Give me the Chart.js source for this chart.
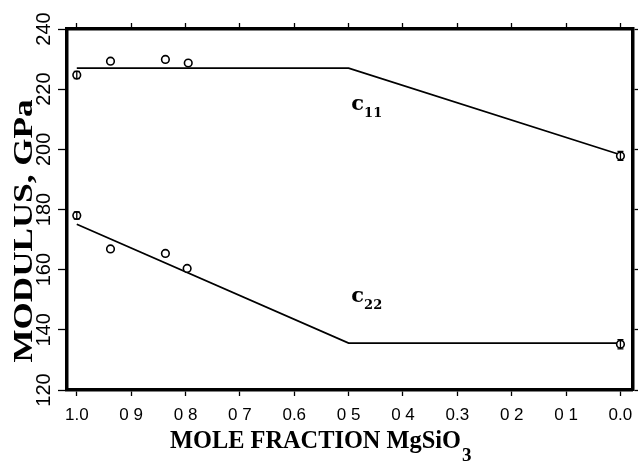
<!DOCTYPE html>
<html>
<head>
<meta charset="utf-8">
<script src="https://cdn.jsdelivr.net/npm/chart.js@4/dist/chart.umd.min.js"></script>
<style>
  html, body { margin: 0; padding: 0; background: #fff; }
  canvas { display: block; }
</style>
</head>
<body>
<canvas id="chart" width="638" height="461"></canvas>
<script>
// tick values and the labels as printed
var xTicks = [1.0, 0.9, 0.8, 0.7, 0.6, 0.5, 0.4, 0.3, 0.2, 0.1, 0.0];
var xTickLabels = ['1.0', '0 9', '0 8', '0 7', '0.6', '0 5', '0 4', '0.3', '0 2', '0 1', '0.0'];
var yTicks = [120, 140, 160, 180, 200, 220, 240];

// measured moduli (GPa) vs mole fraction MgSiO3
var c11X = [1.0, 0.938, 0.837, 0.795, 0.0];
var c11Y = [224.7, 229.3, 229.9, 228.7, 197.8];
var c11Err = [1.2, 0, 0, 0, 1.5];
var c22X = [1.0, 0.938, 0.837, 0.797, 0.0];
var c22Y = [178.0, 166.9, 165.4, 160.4, 135.2];
var c22Err = [1.2, 0, 0, 0, 1.5];

// model lines
var c11FitX = [1.0, 0.5, 0.0];
var c11FitY = [227.0, 227.0, 198.2];
var c22FitX = [1.0, 0.5, 0.0];
var c22FitY = [175.1, 135.6, 135.6];

function toPoints(xs, ys) {
  return xs.map(function(x, i) { return { x: x, y: ys[i] }; });
}

function serif(size) {
  return 'bold ' + size + 'px "Liberation Serif", "DejaVu Serif", serif';
}

var errorBars = {
  id: 'errorBars',
  afterDatasetsDraw: function(chart) {
    var ctx = chart.ctx;
    var xs = chart.scales.x, ys = chart.scales.y;
    var sets = [[c11X, c11Y, c11Err], [c22X, c22Y, c22Err]];
    ctx.save();
    ctx.strokeStyle = '#000';
    ctx.lineWidth = 1.3;
    sets.forEach(function(s) {
      s[0].forEach(function(x, i) {
        var e = s[2][i];
        if (!e) return;
        var px = xs.getPixelForValue(x);
        var top = ys.getPixelForValue(s[1][i] + e);
        var bot = ys.getPixelForValue(s[1][i] - e);
        ctx.beginPath();
        ctx.moveTo(px, top); ctx.lineTo(px, bot);
        ctx.moveTo(px - 3, top); ctx.lineTo(px + 3, top);
        ctx.moveTo(px - 3, bot); ctx.lineTo(px + 3, bot);
        ctx.stroke();
      });
    });
    ctx.restore();
  }
};

function fitText(ctx, text, width) {
  return width / ctx.measureText(text).width;
}

var labels = {
  id: 'labels',
  afterDraw: function(chart) {
    var ctx = chart.ctx;
    var xs = chart.scales.x, ys = chart.scales.y;
    ctx.save();
    ctx.fillStyle = '#000';
    ctx.textBaseline = 'alphabetic';
    ctx.textAlign = 'left';

    // curve labels
    [['11', 0.495, 213], ['22', 0.495, 149.3]].forEach(function(l) {
      var px = xs.getPixelForValue(l[1]);
      var py = ys.getPixelForValue(l[2]);
      ctx.font = 'bold 21px "DejaVu Serif", serif';
      ctx.fillText('c', px, py);
      var w = ctx.measureText('c').width;
      ctx.font = 'bold 13px "DejaVu Serif", serif';
      ctx.fillText(l[0], px + w, py + 7);
    });

    // x title
    ctx.font = serif(25);
    var main = 'MOLE FRACTION MgSiO';
    var sx = fitText(ctx, main, 291);
    ctx.save();
    ctx.translate(170, 448);
    ctx.scale(sx, 1);
    ctx.fillText(main, 0, 0);
    ctx.restore();
    ctx.font = serif(19);
    ctx.fillText('3', 462, 461);

    // y title
    ctx.font = serif(28);
    var yt = 'MODULUS, GPa';
    var sy = fitText(ctx, yt, 263);
    ctx.save();
    ctx.translate(32, 231);
    ctx.rotate(-Math.PI / 2);
    ctx.scale(sy, 1);
    ctx.textAlign = 'center';
    ctx.fillText(yt, 0, 0);
    ctx.restore();

    ctx.restore();
  }
};

function fixTicks(values) {
  return function(scale) {
    scale.ticks = values.map(function(v) { return { value: v }; });
  };
}

function noPad(s) {
  s.paddingLeft = 0; s.paddingRight = 0; s.paddingTop = 0; s.paddingBottom = 0;
}

var frame = { display: true, color: '#000', width: 3.5 };

new Chart(document.getElementById('chart'), {
  data: {
    datasets: [
      {
        type: 'line', data: toPoints(c11FitX, c11FitY), order: 2,
        borderColor: '#000', borderWidth: 1.8, pointRadius: 0, fill: false, tension: 0
      },
      {
        type: 'line', data: toPoints(c22FitX, c22FitY), order: 2,
        borderColor: '#000', borderWidth: 1.8, pointRadius: 0, fill: false, tension: 0
      },
      {
        type: 'scatter', data: toPoints(c11X, c11Y), order: 1,
        pointRadius: 3.8, pointBorderWidth: 1.6, borderColor: '#000', backgroundColor: '#fff'
      },
      {
        type: 'scatter', data: toPoints(c22X, c22Y), order: 1,
        pointRadius: 3.8, pointBorderWidth: 1.6, borderColor: '#000', backgroundColor: '#fff'
      }
    ]
  },
  options: {
    responsive: false,
    animation: false,
    layout: { padding: 0 },
    plugins: { legend: { display: false }, tooltip: { enabled: false } },
    scales: {
      x: {
        type: 'linear', position: 'bottom', reverse: true, min: -0.022, max: 1.018,
        afterBuildTicks: fixTicks(xTicks),
        afterFit: function(s) { s.height = 71; noPad(s); },
        border: frame,
        grid: { display: true, drawOnChartArea: false, drawTicks: true, tickLength: 6, tickWidth: 1.3, tickColor: '#000' },
        ticks: {
          color: '#000', padding: 9, maxRotation: 0, minRotation: 0, autoSkip: false,
          font: { family: '"Liberation Sans", Arial, sans-serif', size: 17 },
          callback: function(v) {
            for (var i = 0; i < xTicks.length; i++) {
              if (Math.abs(xTicks[i] - v) < 1e-6) return xTickLabels[i];
            }
            return '';
          }
        }
      },
      xTop: {
        type: 'linear', position: 'top', reverse: true, min: -0.022, max: 1.018,
        afterBuildTicks: fixTicks(xTicks),
        afterFit: function(s) { s.height = 29; noPad(s); },
        border: frame,
        grid: { display: true, drawOnChartArea: false, drawTicks: true, tickLength: 6, tickWidth: 1.3, tickColor: '#000' },
        ticks: { display: false }
      },
      y: {
        type: 'linear', position: 'left', min: 120, max: 240,
        afterBuildTicks: fixTicks(yTicks),
        afterFit: function(s) { s.width = 67; noPad(s); },
        border: frame,
        grid: { display: true, drawOnChartArea: false, drawTicks: true, tickLength: 9, tickWidth: 1.3, tickColor: '#000' },
        ticks: {
          color: '#000', padding: -3, minRotation: 90, maxRotation: 90, crossAlign: 'center',
          font: { family: '"Liberation Sans", Arial, sans-serif', size: 20 }
        }
      },
      yRight: {
        type: 'linear', position: 'right', min: 120, max: 240,
        afterBuildTicks: fixTicks(yTicks),
        afterFit: function(s) { s.width = 4; noPad(s); },
        border: frame,
        grid: { display: true, drawOnChartArea: false, drawTicks: true, tickLength: 6, tickWidth: 1.3, tickColor: '#000' },
        ticks: { display: false }
      }
    }
  },
  plugins: [errorBars, labels]
});
</script>
</body>
</html>
